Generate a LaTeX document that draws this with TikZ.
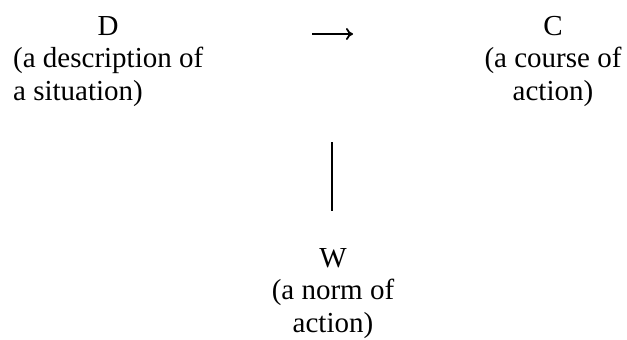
\documentclass[tikz,border=0pt]{standalone}
\usepackage{fontspec}
\setmainfont{Liberation Serif}
\usetikzlibrary{arrows.meta}
\tikzset{
  label block/.style={inner sep=0pt, font=\rmfamily\fontsize{29}{32.5}\selectfont},
  link/.style={line width=1.3pt, -{To[length=7pt,width=12pt,line width=1.8pt]}},
  bar/.style={line width=2.5pt}
}
\begin{document}
\begin{tikzpicture}[x=1pt,y=-1pt]
  \useasboundingbox (0,0) rectangle (627,340);
  % description of the situation
  \node[label block, anchor=base west] (D) at (13,35)
    {\begin{tabular}[t]{@{}l@{}}\multicolumn{1}{@{}c@{}}{D}\\(a description of\\a situation)\end{tabular}};
  % course of action
  \node[label block, anchor=base] (C) at (553,35)
    {\begin{tabular}[t]{@{}c@{}}C\\(a course of\\action)\end{tabular}};
  % norm of action
  \node[label block, anchor=base] (W) at (333,267)
    {\begin{tabular}[t]{@{}c@{}}W\\(a norm of\\action)\end{tabular}};
  % arrow from D towards C
  \coordinate (arrowtail) at (312,34);
  \coordinate (arrowhead) at (353,34);
  \draw[link] (arrowtail) -- (arrowhead);
  % vertical stroke above W
  \coordinate (bartop) at (332,142);
  \coordinate (barbottom) at (332,211);
  \draw[bar] (bartop) -- (barbottom);
\end{tikzpicture}
\end{document}
